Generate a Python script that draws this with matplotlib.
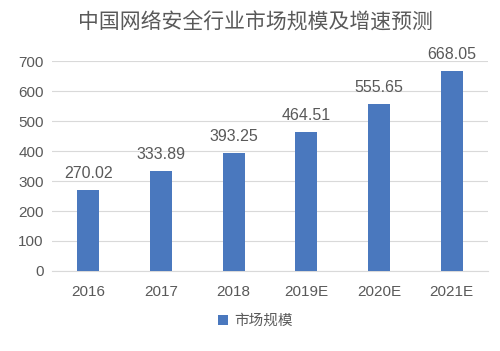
import matplotlib
matplotlib.use("Agg")
import matplotlib.pyplot as plt

plt.rcParams['font.family'] = ['Liberation Sans', 'Noto Sans CJK SC', 'DejaVu Sans']

categories = ["2016", "2017", "2018", "2019E", "2020E", "2021E"]
values = [270.02, 333.89, 393.25, 464.51, 555.65, 668.05]
value_labels = ["270.02", "333.89", "393.25", "464.51", "555.65", "668.05"]
yticks = [0, 100, 200, 300, 400, 500, 600, 700]

fig = plt.figure(figsize=(5.0, 3.51), dpi=100)
ax = fig.add_axes([0.104, 0.228, 0.872, 0.598])
bar_color = "#4a78be"
text_color = "#595959"
x = list(range(len(categories)))
ax.bar(x, values, width=0.3, color=bar_color, label="市场规模", zorder=3)
for xi, v, lab in zip(x, values, value_labels):
    ax.text(xi, v + 30, lab, ha="center", va="bottom", fontsize=11.5, color=text_color)
ax.set_xlim(-0.5, len(categories) - 0.5)
ax.set_ylim(0, 700)
ax.set_yticks(yticks)
ax.set_xticks(x)
ax.set_xticklabels(categories)
ax.grid(axis="y", color="#d9d9d9", linewidth=0.8, zorder=0)
for s in ["top", "right", "left"]:
    ax.spines[s].set_visible(False)
ax.spines["bottom"].set_color("#d9d9d9")
ax.tick_params(axis="both", length=0, labelsize=11, colors=text_color, pad=6)
ax.tick_params(axis="x", pad=10)
fig.suptitle("中国网络安全行业市场规模及增速预测", x=0.51, y=0.965, fontsize=15, color=text_color)
fig.legend(handles=ax.patches[:1], labels=["市场规模"], loc="center", bbox_to_anchor=(0.51, 0.085),
           frameon=False, fontsize=10.5, handlelength=0.7, handleheight=0.7, handletextpad=0.4,
           labelcolor=text_color)
fig.savefig("out.png", dpi=100, facecolor="white")
